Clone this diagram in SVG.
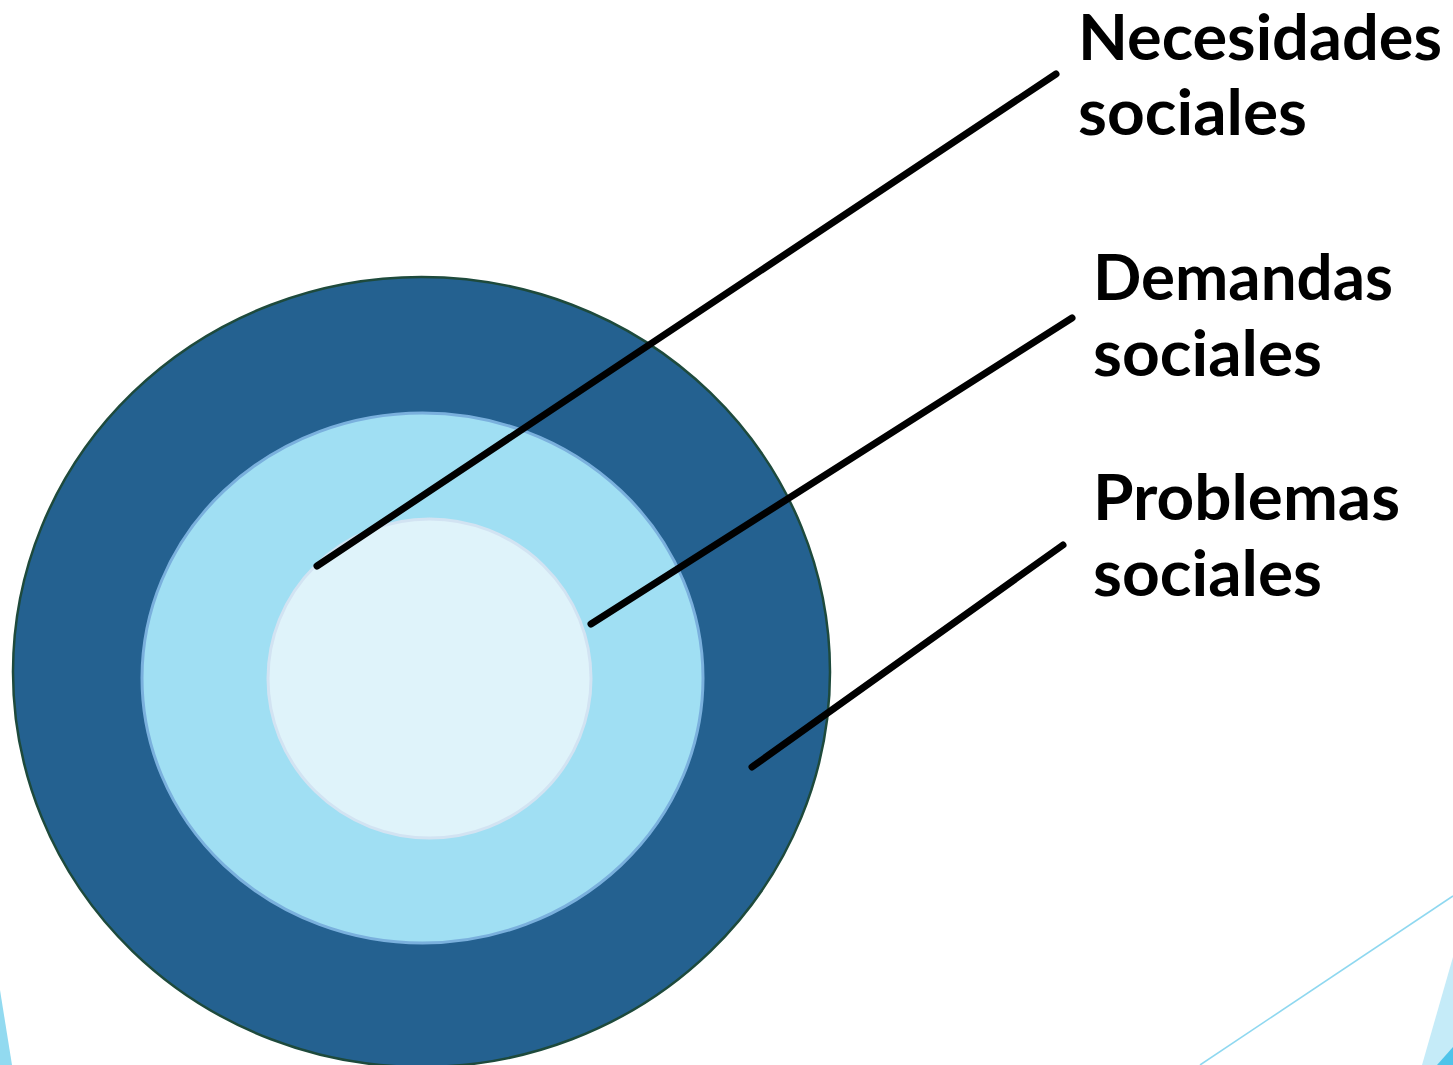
<svg xmlns="http://www.w3.org/2000/svg" width="1453" height="1065" viewBox="0 0 1453 1065">
<style>
.lbl{font-family:Lato,"Open Sans","Noto Sans",sans-serif;font-weight:bold;font-size:64px;fill:#000}
.conn{stroke:#000;stroke-width:7;stroke-linecap:round;fill:none}
</style>
<rect width="1453" height="1065" fill="#fff"/>
<g id="decor">
<polygon points="0,990 12,1065 0,1065" fill="#92daf0"/>
<line x1="1453" y1="896" x2="1200" y2="1065" stroke="#8fd8f0" stroke-width="1.6"/>
<polygon points="1453,957 1422,1065 1453,1065" fill="#c5ebf8"/>
<polygon points="1453,1047 1437,1065 1453,1065" fill="#4fc4ea"/>
</g>
<g id="problemas-ring">
<ellipse cx="421.5" cy="672" rx="408.5" ry="395" fill="#246190" stroke="#1e4a3c" stroke-width="2.5"/>
</g>
<g id="demandas-ring">
<ellipse cx="422.5" cy="678" rx="280.5" ry="265" fill="#a0dff3" stroke="#7ab0dd" stroke-width="3"/>
</g>
<g id="necesidades-ring">
<ellipse cx="429.5" cy="678.5" rx="161.5" ry="159.5" fill="#dff3fa" stroke="#d2e3f2" stroke-width="3"/>
</g>
<g id="connectors">
<line class="conn" x1="317" y1="566" x2="1056" y2="74"/>
<line class="conn" x1="591" y1="624" x2="1072" y2="318"/>
<line class="conn" x1="752" y1="767" x2="1063" y2="545"/>
</g>
<g id="label-necesidades">
<text class="lbl" x="1078" y="60" textLength="364" lengthAdjust="spacingAndGlyphs">Necesidades</text>
<text class="lbl" x="1078" y="135" textLength="229" lengthAdjust="spacingAndGlyphs">sociales</text>
</g>
<g id="label-demandas">
<text class="lbl" x="1093" y="300" textLength="300" lengthAdjust="spacingAndGlyphs">Demandas</text>
<text class="lbl" x="1093" y="376" textLength="229" lengthAdjust="spacingAndGlyphs">sociales</text>
</g>
<g id="label-problemas">
<text class="lbl" x="1093" y="520" textLength="307" lengthAdjust="spacingAndGlyphs">Problemas</text>
<text class="lbl" x="1093" y="596" textLength="229" lengthAdjust="spacingAndGlyphs">sociales</text>
</g>
</svg>
